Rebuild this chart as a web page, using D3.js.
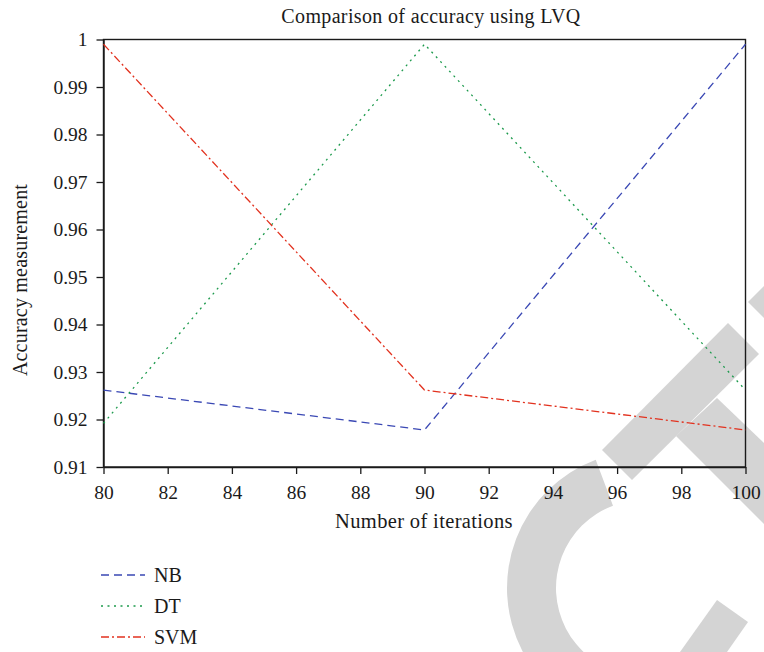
<!DOCTYPE html>
<html>
<head>
<meta charset="utf-8">
<script src="https://cdn.jsdelivr.net/npm/d3@7/dist/d3.min.js"></script>
<style>
  html, body { margin: 0; padding: 0; background: #fff; }
  svg { display: block; }
  text { font-family: "Liberation Serif", "DejaVu Serif", serif; fill: #1a1a1a; }
</style>
</head>
<body>
<svg id="chart" width="764" height="652"></svg>
<script>
// ---- data ----
const iterations = [80, 90, 100];
const nbValues  = [0.9262, 0.9178, 0.999];
const dtValues  = [0.9192, 0.999, 0.9262];
const svmValues = [0.999, 0.9262, 0.9178];
const seriesNames = ["NB", "DT", "SVM"];
const xTickValues = [80, 82, 84, 86, 88, 90, 92, 94, 96, 98, 100];
const yTickValues = [0.91, 0.92, 0.93, 0.94, 0.95, 0.96, 0.97, 0.98, 0.99, 1];
const titleText = "Comparison of accuracy using LVQ";
const xLabelText = "Number of iterations";
const yLabelText = "Accuracy measurement";

// ---- layout ----
const plotL = 103.5, plotR = 745.5, plotT = 39.5, plotB = 467;
const svg = d3.select("#chart");
const serif = '"Liberation Serif", "DejaVu Serif", serif';

// watermark (decoration, behind chart)
const wm = svg.append("g").attr("fill", "#d4d4d4");
wm.append("polygon").attr("points", "728,323 759,354 632,480 602,450");
wm.append("polygon").attr("points", "676,436 717,398 764,443 764,524");
wm.append("polygon").attr("points", "748,302 764,286 764,318");
const arcGen = d3.arc().innerRadius(88).outerRadius(137)
  .startAngle(-0.36).endAngle(-Math.PI - 0.6);
wm.append("path").attr("d", arcGen()).attr("transform", "translate(644,588)");
wm.append("polygon").attr("points", "717,600 748,622 727,652 680,652");

const x = d3.scaleLinear().domain([80, 100]).range([plotL, plotR]);
const y = d3.scaleLinear().domain([0.91, 1]).range([plotB, plotT]);

// frame
svg.append("rect")
  .attr("x", plotL).attr("y", plotT)
  .attr("width", plotR - plotL).attr("height", plotB - plotT)
  .attr("fill", "none").attr("stroke", "#1a1a1a").attr("stroke-width", 1.4);

// axes
const xAxis = d3.axisBottom(x).tickValues(xTickValues).tickSize(7).tickSizeOuter(0).tickPadding(11.5)
  .tickFormat(d3.format("d"));
const gx = svg.append("g").attr("transform", `translate(0,${plotB})`).call(xAxis);
const yAxis = d3.axisLeft(y).tickValues(yTickValues).tickSize(7).tickSizeOuter(0).tickPadding(9)
  .tickFormat(d => String(+d.toFixed(2)));
const gy = svg.append("g").attr("transform", `translate(${plotL},0)`).call(yAxis);
[gx, gy].forEach(g => {
  g.attr("font-family", serif);
  g.select(".domain").attr("stroke", "#1a1a1a").attr("stroke-width", 1.4);
  g.selectAll(".tick line").attr("stroke", "#1a1a1a").attr("stroke-width", 1.3);
  g.selectAll(".tick text")
    .style("font-family", serif)
    .style("font-size", "19.5px").attr("fill", "#1a1a1a");
});

// series
const styles = [
  { name: seriesNames[0], values: nbValues,  color: "#3a48b4", dash: "8,5" },
  { name: seriesNames[1], values: dtValues,  color: "#1c9a4c", dash: "2,4.5" },
  { name: seriesNames[2], values: svmValues, color: "#e2321f", dash: "8,3,2,3" }
];
const line = d3.line().x(d => x(d[0])).y(d => y(d[1]));
styles.forEach(s => {
  const pts = iterations.map((it, i) => [it, s.values[i]]);
  svg.append("path")
    .attr("d", line(pts))
    .attr("fill", "none")
    .attr("stroke", s.color)
    .attr("stroke-width", 1.3)
    .attr("stroke-dasharray", s.dash);
});

// title & labels
svg.append("text").attr("x", 431).attr("y", 23).attr("text-anchor", "middle")
  .style("font-size", "20px").style("letter-spacing", "0.35px").text(titleText);
svg.append("text").attr("x", 424).attr("y", 528).attr("text-anchor", "middle")
  .style("font-size", "20.5px").style("letter-spacing", "0.35px").text(xLabelText);
svg.append("text").attr("transform", "translate(27,280) rotate(-90)")
  .attr("text-anchor", "middle").style("font-size", "20px").style("letter-spacing", "0.2px")
  .text(yLabelText);

// legend
const legendY = [575, 606, 637];
styles.forEach((s, i) => {
  const ly = legendY[i];
  svg.append("line")
    .attr("x1", 101).attr("x2", 145).attr("y1", ly).attr("y2", ly)
    .attr("stroke", s.color).attr("stroke-width", 1.3)
    .attr("stroke-dasharray", s.dash);
  svg.append("text").attr("x", 154).attr("y", ly).attr("dy", "0.33em")
    .style("font-size", "20px").text(s.name);
});
</script>
</body>
</html>
